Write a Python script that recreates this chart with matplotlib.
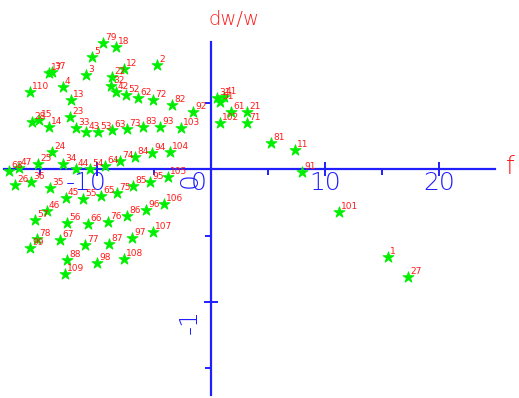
import matplotlib
matplotlib.use("Agg")
import matplotlib.pyplot as plt

# point labels and positions (f, dw/w)
labels = ['1', '2', '3', '4', '5', '11', '12', '13', '14', '15', '17', '18',
          '21', '22', '23', '24', '25', '26', '27', '28', '31', '32', '33', '34',
          '35', '36', '37', '41', '42', '43', '44', '45', '46', '47', '51', '52',
          '53', '54', '55', '56', '57', '61', '62', '63', '64', '65', '66', '67',
          '68', '71', '72', '73', '74', '75', '76', '77', '78', '79', '81', '82',
          '83', '84', '85', '86', '87', '88', '91', '92', '93', '94', '95', '96',
          '97', '98', '99', '101', '102', '103', '104', '105', '106', '107', '108',
          '109', '110']
f_vals = [15.53, -4.74, -10.96, -12.98, -10.44, 7.37, -7.63, -12.28, -14.21, -15.09, -14.21, -8.33,
          3.16, -8.68, -12.37, -13.95, -15.18, -17.19, 17.28, -15.70, 0.53, -8.77, -11.84, -12.98,
          -14.12, -15.79, -13.95, 1.14, -8.33, -10.96, -11.84, -12.72, -14.39, -16.84, 0.79, -7.46,
          -9.91, -10.61, -11.23, -12.63, -15.44, 1.75, -6.40, -8.68, -9.30, -9.65, -10.79, -13.25,
          -17.72, 3.16, -5.09, -7.37, -7.98, -8.25, -9.04, -11.05, -15.26, -9.47, 5.26, -3.42,
          -5.96, -6.67, -6.84, -7.37, -8.95, -12.63, 7.98, -1.58, -4.47, -5.18, -5.35, -5.70,
          -6.93, -10.00, -15.88, 11.23, 0.79, -2.63, -3.60, -3.77, -4.12, -5.09, -7.63,
          -12.81, -15.88]
dw_vals = [-0.662, 0.782, 0.707, 0.617, 0.842, 0.143, 0.752, 0.519, 0.316, 0.368, 0.722, 0.917,
           0.429, 0.692, 0.391, 0.128, 0.038, -0.120, -0.812, 0.353, 0.534, 0.624, 0.308, 0.038,
           -0.143, -0.098, 0.729, 0.541, 0.579, 0.278, 0.000, -0.218, -0.316, 0.008, 0.504, 0.556,
           0.278, 0.000, -0.226, -0.406, -0.383, 0.429, 0.534, 0.293, 0.023, -0.203, -0.414, -0.534,
           -0.015, 0.346, 0.519, 0.301, 0.060, -0.180, -0.398, -0.571, -0.526, 0.947, 0.195, 0.481,
           0.316, 0.090, -0.128, -0.353, -0.564, -0.684, -0.023, 0.429, 0.316, 0.120, -0.098, -0.308,
           -0.519, -0.707, -0.594, -0.323, 0.346, 0.308, 0.128, -0.060, -0.263, -0.474, -0.677,
           -0.789, 0.579]

x_ticks = [-10, 0, 10, 20]
x_tick_labels = ['-10', '0', '10', '20']
x_minor = [-15, -5, 5, 15]
y_ticks = [0, -1]
y_tick_labels = ['0', '-1']
y_minor = [0.5, -0.5, -1.5]

blue = '#1f1fff'
red = '#ff1a1a'
green = '#00ee00'

fig = plt.figure(figsize=(5.19, 3.98), dpi=100)
ax = fig.add_axes([0, 0, 1, 1])
ax.set_xlim(-18.51, 27.02)
ax.set_ylim(-1.722, 1.271)

for s in ['top', 'right']:
    ax.spines[s].set_visible(False)
ax.spines['bottom'].set_position(('data', 0))
ax.spines['left'].set_position(('data', 0))
ax.spines['bottom'].set_bounds(-18.2, 24.9)
ax.spines['left'].set_bounds(-1.70, 0.955)
for s in ['bottom', 'left']:
    ax.spines[s].set_color(blue)
    ax.spines[s].set_linewidth(1.6)

ax.set_xticks(x_ticks)
ax.set_xticks(x_minor, minor=True)
ax.set_yticks([-1])
ax.set_yticks(y_minor, minor=True)
ax.tick_params(which='major', direction='inout', length=10, width=1.4, color=blue,
               labelbottom=False, labelleft=False)
ax.tick_params(which='minor', direction='out', length=4, width=1.4, color=blue)

ax.scatter(f_vals, dw_vals, marker='*', s=70, color=green, linewidths=0.6,
           edgecolors=green, zorder=3)
for lab, xv, yv in zip(labels, f_vals, dw_vals):
    ax.annotate(lab, (xv, yv), xytext=(2, 1), textcoords='offset pixels',
                ha='left', va='bottom', fontsize=6.5, color=red, zorder=4)

# tick labels, placed like the old plot does
x_shift = {'-10': -11, '0': -12}
for v, lab in zip(x_ticks, x_tick_labels):
    ax.annotate(lab, (v, 0), xytext=(x_shift.get(lab, 0), -2), textcoords='offset pixels',
                ha='center', va='top', fontsize=18, color=blue, fontweight='light')
y_shift = {'0': -11, '-1': -20}
for v, lab in zip(y_ticks, y_tick_labels):
    ax.annotate(lab, (0, v), xytext=(-21, y_shift[lab]), textcoords='offset pixels',
                ha='center', va='center', rotation=90, fontsize=18, color=blue,
                fontweight='light')

ax.annotate('dw/w', (0, 0.955), xytext=(23, 23), textcoords='offset pixels',
            ha='center', va='center', fontsize=14, color=red, fontweight='light')
ax.annotate('f', (24.9, 0), xytext=(15, 2), textcoords='offset pixels',
            ha='center', va='center', fontsize=18, color=red, fontweight='light')

fig.savefig('out.png', dpi=100)
